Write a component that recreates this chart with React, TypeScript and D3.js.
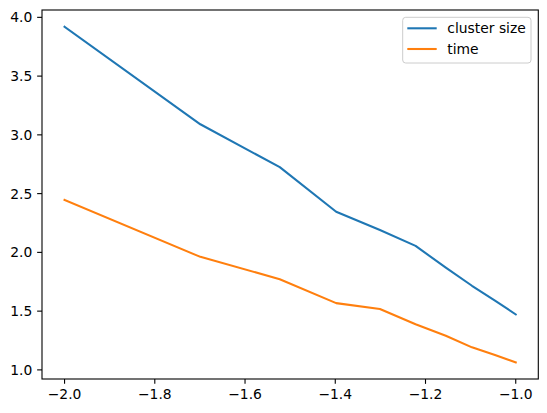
import React from "react";
import * as d3 from "d3";

const xValues = [-2.0, -1.699, -1.523, -1.398, -1.301, -1.222, -1.155, -1.097, -1.046, -1.0];
const clusterSize = [3.92, 3.09, 2.725, 2.346, 2.19, 2.055, 1.87, 1.716, 1.59, 1.472];
const timeValues = [2.446, 1.962, 1.772, 1.568, 1.518, 1.388, 1.29, 1.192, 1.127, 1.063];
const xTicks = [-2.0, -1.8, -1.6, -1.4, -1.2, -1.0];
const yTicks = [1.0, 1.5, 2.0, 2.5, 3.0, 3.5, 4.0];
const seriesNames = ["cluster size", "time"];
const colors = ["#1f77b4", "#ff7f0e"];

const W = 547;
const H = 413;
const left = 42;
const right = 538.3;
const top = 10;
const bottom = 379;
const FS = 13.89;

export default function App() {
  const x = d3.scaleLinear().domain([-2.05, -0.95]).range([left, right]);
  const y = d3.scaleLinear().domain([0.9225, 4.0625]).range([bottom, top]);
  const fmt = (v: number) => d3.format(".1f")(v).replace("-", "\u2212");
  const line = d3
    .line<[number, number]>()
    .x((d) => x(d[0]))
    .y((d) => y(d[1]));
  const series = [clusterSize, timeValues];
  const font = "'DejaVu Sans', sans-serif";

  return (
    <svg
      width={W}
      height={H}
      style={{ position: "absolute", left: 0, top: 0, background: "#fff" }}
      fontFamily={font}
    >
      <rect x={0} y={0} width={W} height={H} fill="#fff" />
      {series.map((s, i) => (
        <path
          key={i}
          d={line(xValues.map((xv, j) => [xv, s[j]] as [number, number])) || ""}
          fill="none"
          stroke={colors[i]}
          strokeWidth={2.08}
          strokeLinejoin="round"
          strokeLinecap="square"
        />
      ))}
      <rect
        x={left}
        y={top}
        width={right - left}
        height={bottom - top}
        fill="none"
        stroke="#000"
        strokeWidth={1.1}
      />
      {xTicks.map((t) => (
        <g key={"x" + t}>
          <line x1={x(t)} x2={x(t)} y1={bottom} y2={bottom + 4.86} stroke="#000" strokeWidth={1.1} />
          <text x={x(t)} y={bottom + 9.7} dy="0.76em" textAnchor="middle" fontSize={FS} fill="#000">
            {fmt(t)}
          </text>
        </g>
      ))}
      {yTicks.map((t) => (
        <g key={"y" + t}>
          <line x1={left - 4.86} x2={left} y1={y(t)} y2={y(t)} stroke="#000" strokeWidth={1.1} />
          <text x={left - 9.7} y={y(t)} dy="0.36em" textAnchor="end" fontSize={FS} fill="#000">
            {fmt(t)}
          </text>
        </g>
      ))}
      <g>
        <rect
          x={402.7}
          y={17.3}
          width={128.3}
          height={45.7}
          rx={3}
          fill="#fff"
          fillOpacity={0.8}
          stroke="#cccccc"
          strokeWidth={1}
        />
        {seriesNames.map((n, i) => (
          <g key={n}>
            <line
              x1={407.3}
              x2={436.7}
              y1={28.3 + i * 20.7}
              y2={28.3 + i * 20.7}
              stroke={colors[i]}
              strokeWidth={2.08}
            />
            <text x={447.3} y={28.3 + i * 20.7} dy="0.36em" fontSize={FS} fill="#000">
              {n}
            </text>
          </g>
        ))}
      </g>
    </svg>
  );
}
